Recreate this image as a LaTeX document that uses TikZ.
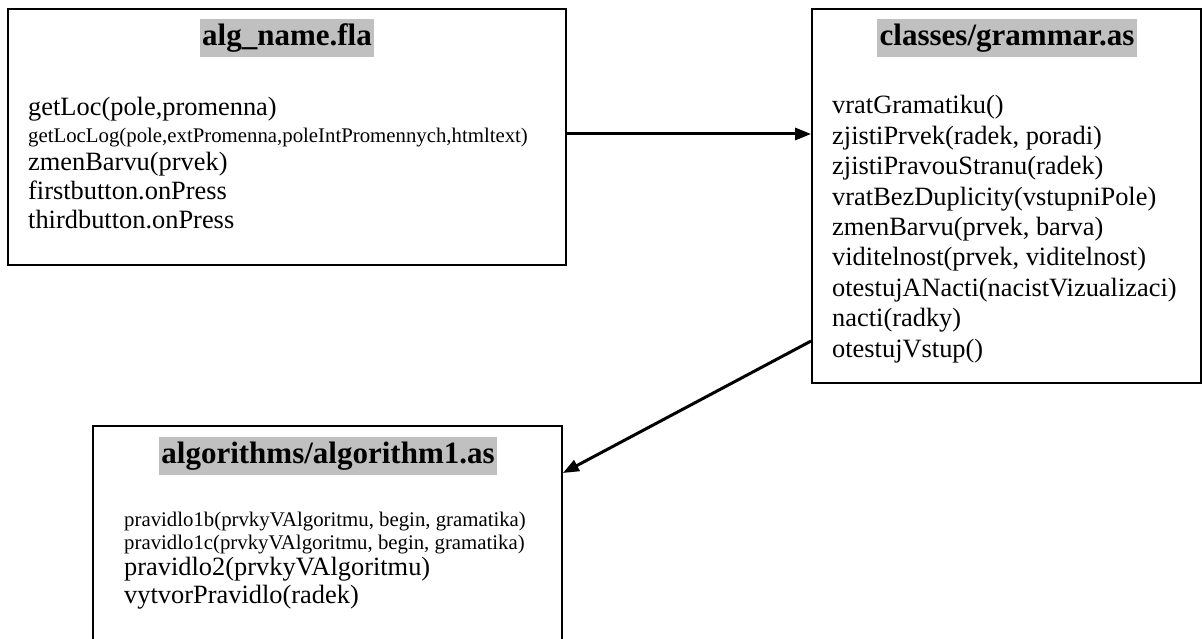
\documentclass[tikz,border=0pt]{standalone}
\usepackage{fontspec}
\setmainfont{Liberation Serif}
\usetikzlibrary{arrows.meta}
\definecolor{titlegray}{RGB}{192,192,192}
\tikzset{
  filebox/.style={draw, line width=1.8pt, inner sep=0pt},
  ttl/.style={fill=titlegray, inner xsep=2.5pt, inner ysep=0pt, minimum height=38pt,
              font=\fontsize{31}{34}\selectfont\bfseries},
  big/.style={anchor=base west, inner sep=0pt, font=\fontsize{26.4}{30}\selectfont},
  small/.style={anchor=base west, inner sep=0pt, font=\fontsize{20.8}{24}\selectfont},
  conn/.style={line width=3pt, -{Triangle[length=16pt,width=12pt]}}
}
\begin{document}
\begin{tikzpicture}[x=1pt,y=-1pt]
\clip (0,0) rectangle (1203,639);
\fill[white] (0,0) rectangle (1203,639);

% main movie file
\node[filebox, minimum width=558pt, minimum height=256pt] (b1) at (287,137) {};
\node[ttl] (t1) at (287,38) {alg\_name.fla};
\node[big]   (a1) at (28,115.5) {getLoc(pole,promenna)};
\node[small] (a2) at (28,142.5) {getLocLog(pole,extPromenna,poleIntPromennych,htmltext)};
\node[big]   (a3) at (28,170.5) {zmenBarvu(prvek)};
\node[big]   (a4) at (28,199.5) {firstbutton.onPress};
\node[big]   (a5) at (28,228.5) {thirdbutton.onPress};

% grammar class
\node[filebox, minimum width=389pt, minimum height=374pt] (b2) at (1006.5,196) {};
\node[ttl] (t2) at (1007,38) {classes/grammar.as};
\foreach \t [count=\i] in {{vratGramatiku()},{zjistiPrvek(radek, poradi)},
    {zjistiPravouStranu(radek)},{vratBezDuplicity(vstupniPole)},
    {zmenBarvu(prvek, barva)},{viditelnost(prvek, viditelnost)},
    {otestujANacti(nacistVizualizaci)},{nacti(radky)},{otestujVstup()}}
  \node[big] (g\i) at (832,{114+30.4*(\i-1)}) {\t};

% algorithm file (runs past the lower edge)
\node[filebox, minimum width=469pt, minimum height=234pt] (b3) at (327.5,543) {};
\node[ttl] (t3) at (328,456) {algorithms/algorithm1.as};
\node[small] (p1) at (124,526) {pravidlo1b(prvkyVAlgoritmu, begin, gramatika)};
\node[small] (p2) at (124,549.5) {pravidlo1c(prvkyVAlgoritmu, begin, gramatika)};
\node[big]   (p3) at (124,575) {pravidlo2(prvkyVAlgoritmu)};
\node[big]   (p4) at (124,603) {vytvorPravidlo(radek)};

% dependencies
\draw[conn] ([yshift=3pt]b1.east) -- ([yshift=62pt]b2.west);
\draw[conn] ([yshift=-145pt]b2.west) -- ([yshift=70pt]b3.east);
\end{tikzpicture}
\end{document}
